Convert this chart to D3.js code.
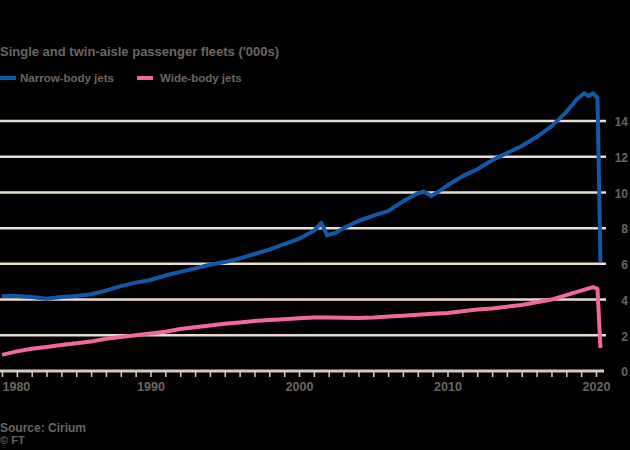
<!DOCTYPE html>
<html><head><meta charset="utf-8">
<script src="https://cdn.jsdelivr.net/npm/d3@7"></script>
<style>
html,body{margin:0;padding:0;background:#000;}
svg{display:block;font-family:"Liberation Sans",Arial,sans-serif;}
</style></head>
<body>
<svg id="c" width="630" height="450"></svg>
<script>
const title = "Single and twin-aisle passenger fleets ('000s)";
const seriesNames = ["Narrow-body jets", "Wide-body jets"];
const seriesColors = ["#1358a6", "#f2689c"];
const narrowYears = [1980,1981,1982,1983,1984,1985,1986,1987,1988,1989,1990,1991,1992,1993,1994,1995,1996,1997,1998,1999,2000,2001,2001.5,2001.9,2002.5,2003,2004,2005,2006,2007,2008,2008.4,2008.9,2009.5,2010,2011,2012,2013,2014,2015,2016,2017,2018,2018.7,2019.2,2019.5,2019.8,2020.1,2020.3];
const narrowValues = [4.2,4.2,4.15,4.05,4.15,4.2,4.3,4.5,4.75,4.95,5.1,5.35,5.55,5.75,5.95,6.1,6.3,6.55,6.8,7.1,7.4,7.85,8.3,7.6,7.75,8.0,8.4,8.7,8.95,9.5,9.95,10.05,9.8,10.1,10.4,10.9,11.3,11.8,12.2,12.6,13.1,13.7,14.5,15.2,15.55,15.4,15.55,15.3,6.1];
const wideYears = [1980,1981,1982,1983,1984,1985,1986,1987,1988,1989,1990,1991,1992,1993,1994,1995,1996,1997,1998,1999,2000,2001,2002,2003,2004,2005,2006,2007,2008,2009,2010,2011,2012,2013,2014,2015,2016,2017,2018,2019,2019.8,2020.1,2020.3];
const wideValues = [0.9,1.1,1.25,1.35,1.45,1.55,1.65,1.8,1.9,2.0,2.1,2.2,2.35,2.45,2.55,2.65,2.72,2.8,2.85,2.9,2.95,3.0,3.0,2.98,2.97,3.0,3.05,3.1,3.15,3.2,3.25,3.35,3.45,3.5,3.6,3.7,3.85,4.0,4.25,4.5,4.7,4.6,1.3];
const yTicks = [0,2,4,6,8,10,12,14];
const xLabelYears = [1980,1990,2000,2010,2020];
const source = "Source: Cirium";
const credit = "© FT";

const svg = d3.select("#c");
const x = d3.scaleLinear().domain([1980, 2020]).range([2, 596]);
const y = d3.scaleLinear().domain([0, 14]).range([371, 121]);
const textCol = "#6b6560";

svg.append("text").attr("x", 0).attr("y", 56).attr("fill", textCol)
  .attr("font-size", 13).attr("font-weight", "bold").text(title);

// legend
const lg = [[0, 20], [137, 160]];
seriesNames.forEach((n, i) => {
  svg.append("line").attr("x1", lg[i][0]).attr("x2", lg[i][0] + 16)
    .attr("y1", 78).attr("y2", 78).attr("stroke", seriesColors[i]).attr("stroke-width", 4);
  svg.append("text").attr("x", lg[i][1]).attr("y", 82).attr("fill", textCol)
    .attr("font-size", 11.5).attr("font-weight", "bold").text(n);
});

// grid
const gridTicks = yTicks.filter(d => d > 0);
svg.append("g").selectAll("line").data(gridTicks).join("line")
  .attr("x1", 0).attr("x2", 606).attr("y1", d => y(d)).attr("y2", d => y(d))
  .attr("stroke", "#e8ddd3").attr("stroke-width", 2.5);

// y axis labels on right
const yAxis = d3.axisRight(y).tickValues(yTicks).tickSize(0).tickPadding(0);
const yg = svg.append("g").attr("transform", "translate(628,1)").call(yAxis);
yg.select(".domain").remove();
yg.selectAll("text").attr("text-anchor", "end").attr("fill", textCol)
  .attr("font-size", 12).attr("font-weight", "bold").attr("font-family", "Liberation Sans, Arial, sans-serif");

// x axis
const years = d3.range(1980, 2021);
const xAxis = d3.axisBottom(x).tickValues(years).tickSize(6)
  .tickFormat(d => xLabelYears.includes(d) ? String(d) : "");
const xg = svg.append("g").attr("transform", "translate(0," + y(0) + ")").call(xAxis);
xg.select(".domain").remove();
xg.selectAll(".tick line").attr("stroke", "#d8cec6").attr("stroke-width", 1.5);
xg.selectAll(".tick text").attr("fill", textCol).attr("font-size", 12.5).attr("font-weight", "bold").attr("dy", "0.9em")
  .attr("font-family", "Liberation Sans, Arial, sans-serif");
xg.selectAll(".tick text").filter(d => d === 1980).attr("text-anchor", "start");
svg.append("line").attr("x1", 0).attr("x2", 604).attr("y1", y(0)).attr("y2", y(0))
  .attr("stroke", "#d3c9bf").attr("stroke-width", 3);

// lines
const line = d3.line().x(d => x(d[0])).y(d => y(d[1]));
const narrow = narrowYears.map((t, i) => [t, narrowValues[i]]);
const wide = wideYears.map((t, i) => [t, wideValues[i]]);
svg.append("path").datum(wide).attr("d", line).attr("fill", "none")
  .attr("stroke", seriesColors[1]).attr("stroke-width", 4).attr("stroke-linejoin", "round");
svg.append("path").datum(narrow).attr("d", line).attr("fill", "none")
  .attr("stroke", seriesColors[0]).attr("stroke-width", 4).attr("stroke-linejoin", "round");

svg.append("text").attr("x", 0).attr("y", 432).attr("fill", textCol)
  .attr("font-size", 12).attr("font-weight", "bold").text(source);
svg.append("text").attr("x", 0).attr("y", 444).attr("fill", textCol)
  .attr("font-size", 11).attr("font-weight", "bold").text(credit);
</script>
</body></html>
